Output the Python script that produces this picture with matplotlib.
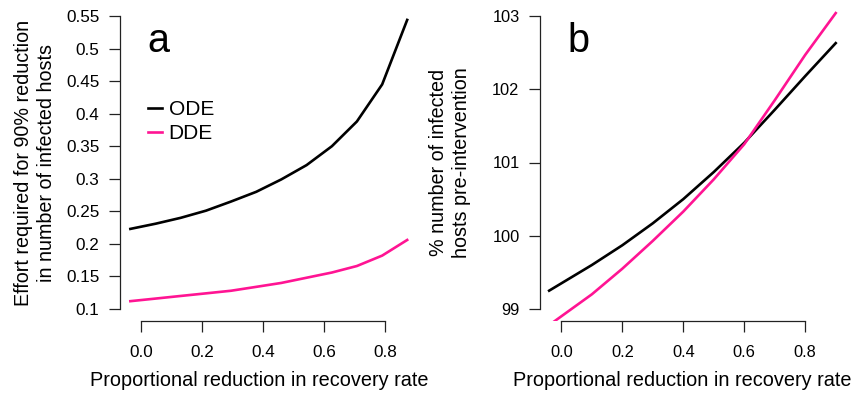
import matplotlib
matplotlib.use('Agg')
import matplotlib.pyplot as plt

plt.rcParams['font.family'] = ['Liberation Sans', 'DejaVu Sans']

# effort needed for 90% reduction (panel a)
x_effort = [-0.036, 0.047, 0.129, 0.212, 0.294, 0.377, 0.459, 0.542, 0.625, 0.707, 0.790, 0.872]
effort_ode = [0.223, 0.231, 0.240, 0.251, 0.265, 0.280, 0.299, 0.321, 0.350, 0.388, 0.445, 0.544]
effort_dde = [0.112, 0.116, 0.120, 0.124, 0.128, 0.134, 0.140, 0.148, 0.156, 0.166, 0.182, 0.206]

# infected hosts relative to pre-intervention (panel b)
x_hosts = [-0.04, 0.0, 0.1, 0.2, 0.3, 0.4, 0.5, 0.6, 0.7, 0.8, 0.9]
hosts_ode = [99.25, 99.35, 99.60, 99.87, 100.17, 100.50, 100.87, 101.27, 101.72, 102.18, 102.63]
hosts_dde = [98.78, 98.90, 99.20, 99.55, 99.93, 100.33, 100.77, 101.25, 101.85, 102.47, 103.04]

x_ticks = [0.0, 0.2, 0.4, 0.6, 0.8]
x_ticklabels = ['0.0', '0.2', '0.4', '0.6', '0.8']
a_yticks = [0.1, 0.15, 0.2, 0.25, 0.3, 0.35, 0.4, 0.45, 0.5, 0.55]
a_yticklabels = ['0.1', '0.15', '0.2', '0.25', '0.3', '0.35', '0.4', '0.45', '0.5', '0.55']
b_yticks = [99, 100, 101, 102, 103]

PINK = '#ff1493'
AXC = '#222222'
W, H = 857, 394
TOP, BOTTOM = 4.3, 320.7

fig = plt.figure(figsize=(W / 100, H / 100), dpi=100)

def px_axes(left, right):
    return fig.add_axes([left / W, 1 - BOTTOM / H, (right - left) / W, (BOTTOM - TOP) / H])

ax_a = px_axes(120, 427)
ax_b = px_axes(540, 847)

ax_a.plot(x_effort, effort_ode, color='black', lw=1.9, label='ODE')
ax_a.plot(x_effort, effort_dde, color=PINK, lw=1.9, label='DDE')
ax_a.set_ylim(0.082, 0.568)
ax_a.set_yticks(a_yticks)
ax_a.set_yticklabels(a_yticklabels)
ax_a.set_ylabel('Effort required for 90% reduction\nin number of infected hosts',
                fontsize=14.2, linespacing=1.25)
ax_a.yaxis.set_label_coords(-0.278, 0.5)

ax_b.plot(x_hosts, hosts_ode, color='black', lw=1.9)
ax_b.plot(x_hosts, hosts_dde, color=PINK, lw=1.9)
ax_b.set_ylim(98.84, 103.16)
ax_b.set_yticks(b_yticks)
ax_b.set_yticklabels([str(v) for v in b_yticks])
ax_b.set_ylabel('% number of infected\nhosts pre-intervention',
                fontsize=14.2, linespacing=1.25)
ax_b.yaxis.set_label_coords(-0.293, 0.5)

for ax, lo, hi, letter, xlab_x, tsize in [(ax_a, 0.1, 0.55, 'a', 0.454, 12.3),
                                          (ax_b, 99, 103, 'b', 0.4625, 11.8)]:
    ax.set_xlim(-0.07, 0.937)
    ax.set_xticks(x_ticks)
    ax.set_xticklabels(x_ticklabels)
    ax.set_xlabel('Proportional reduction in recovery rate', fontsize=14.3)
    ax.xaxis.set_label_coords(xlab_x, -(381 - BOTTOM) / (BOTTOM - TOP))
    ax.xaxis.label.set_va('center')
    ax.yaxis.label.set_va('center')
    for s in ['top', 'right']:
        ax.spines[s].set_visible(False)
    ax.spines['left'].set_bounds(lo, hi)
    ax.spines['bottom'].set_bounds(0.0, 0.8)
    for s in ['left', 'bottom']:
        ax.spines[s].set_color(AXC)
        ax.spines[s].set_linewidth(0.9)
    ax.tick_params(direction='out', length=7.7, width=0.9, color=AXC, labelsize=tsize)
    ax.tick_params(axis='x', pad=9.5)
    ax.tick_params(axis='y', pad=7)
    ax.text(0.089, 0.850, letter, transform=ax.transAxes, fontsize=28.5,
            ha='left', va='baseline')

ax_a.legend(loc='upper left', bbox_to_anchor=(0.091, 0.698), frameon=False,
            fontsize=15, handlelength=0.67, handletextpad=0.32, labelspacing=0.27,
            borderpad=0, borderaxespad=0)

fig.savefig('out.png', dpi=100)
